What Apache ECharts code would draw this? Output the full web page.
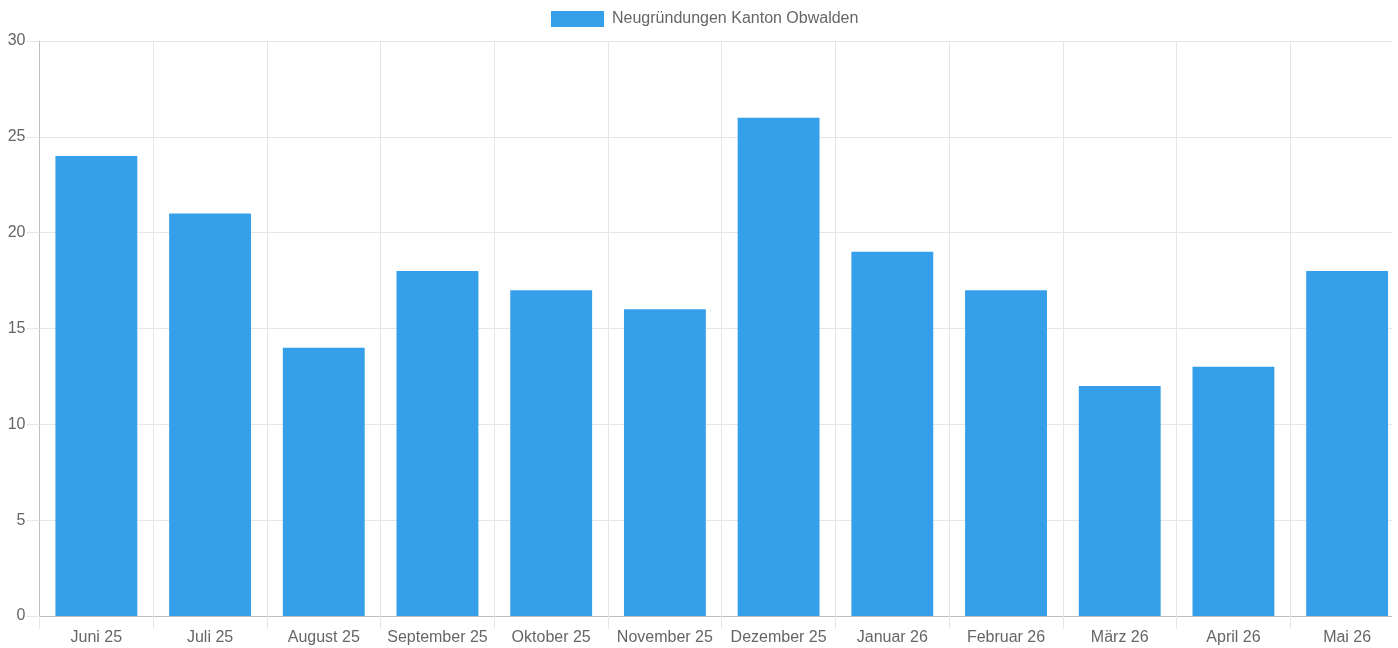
<!DOCTYPE html>
<html>
<head>
<meta charset="utf-8">
<script src="https://cdn.jsdelivr.net/npm/echarts@6/dist/echarts.min.js"></script>
<style>
html,body{margin:0;padding:0;background:#fff;overflow:hidden;width:1398px;height:648px;}
#chart{width:1410px;height:648px;}
</style>
</head>
<body>
<div id="chart"></div>
<script>
const categories = ['Juni 25','Juli 25','August 25','September 25','Oktober 25','November 25','Dezember 25','Januar 26','Februar 26','März 26','April 26','Mai 26'];
const seriesName = 'Neugründungen Kanton Obwalden';
const values = [24, 21, 14, 18, 17, 16, 26, 19, 17, 12, 13, 18];

const chart = echarts.init(document.getElementById('chart'), null, {renderer:'canvas'});
const font = 'Liberation Sans, Arial, Helvetica, sans-serif';
chart.setOption({
  animation: false,
  textStyle: {fontFamily: font},
  legend: {
    top: 6,
    left: 546,
    itemWidth: 53,
    itemHeight: 16,
    itemGap: 10,
    icon: 'rect',
    textStyle: {color: '#666', fontSize: 16, fontFamily: font, padding:[0,0,0,3]},
    data: [seriesName]
  },
  grid: {left: 39.5, top: 41, bottom: 32, width: 1364.5, containLabel: false},
  graphic: [{
    type: 'rect',
    left: 1392,
    top: 0,
    z: 100,
    shape: {width: 20, height: 648},
    style: {fill: '#fff'}
  }],
  xAxis: {
    type: 'category',
    data: categories,
    boundaryGap: true,
    axisLine: {show: true, lineStyle: {color: '#bfbfbf', width: 1}},
    axisTick: {show: true, length: 13, interval: 0, lineStyle: {color: '#e6e6e6'}},
    axisLabel: {color: '#666', fontSize: 16, margin: 14, interval: 0, fontFamily: font},
    splitLine: {show: true, interval: 0, lineStyle: {color: '#e6e6e6', width: 1}}
  },
  yAxis: {
    type: 'value',
    min: 0,
    max: 30,
    interval: 5,
    axisLine: {show: true, lineStyle: {color: '#bfbfbf', width: 1}},
    axisTick: {show: true, length: 13, lineStyle: {color: '#e6e6e6'}},
    axisLabel: {color: '#666', fontSize: 16, margin: 14, fontFamily: font},
    splitLine: {show: true, lineStyle: {color: '#e6e6e6', width: 1}}
  },
  series: [{
    name: seriesName,
    type: 'bar',
    data: values,
    barWidth: '72%',
    itemStyle: {color: '#35a0e9'}
  }]
});
</script>
</body>
</html>
